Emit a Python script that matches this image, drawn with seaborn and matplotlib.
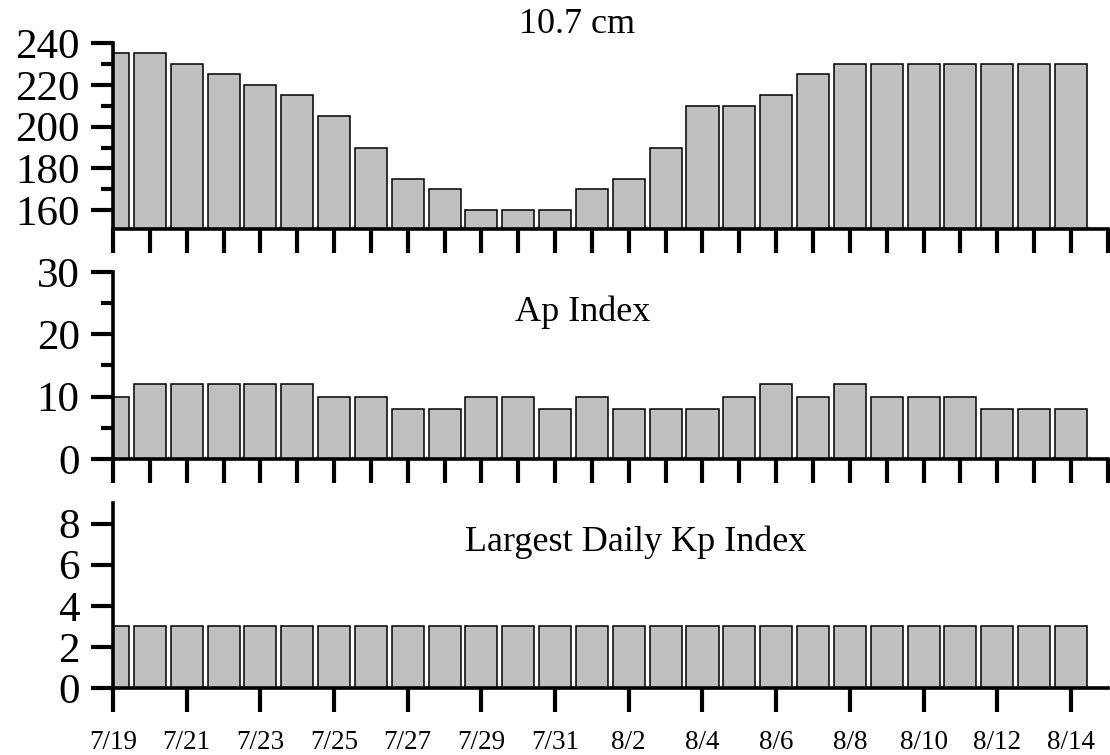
import matplotlib.pyplot as plt
from matplotlib.ticker import FixedLocator, MultipleLocator
import pandas as pd
import seaborn as sns

sns.set_style('ticks')
plt.rcParams['font.family'] = ['Liberation Serif', 'DejaVu Serif']
for key in ['axes.edgecolor', 'xtick.color', 'ytick.color', 'text.color',
            'axes.labelcolor']:
    plt.rcParams[key] = 'black'

# daily values, 7/19 .. 8/14
days = ['7/19', '7/20', '7/21', '7/22', '7/23', '7/24', '7/25', '7/26',
        '7/27', '7/28', '7/29', '7/30', '7/31', '8/1', '8/2', '8/3', '8/4',
        '8/5', '8/6', '8/7', '8/8', '8/9', '8/10', '8/11', '8/12', '8/13',
        '8/14']
flux = [235, 235, 230, 225, 220, 215, 205, 190, 175, 170, 160, 160, 160,
        170, 175, 190, 210, 210, 215, 225, 230, 230, 230, 230, 230, 230, 230]
ap = [10, 12, 12, 12, 12, 12, 10, 10, 8, 8, 10, 10, 8, 10, 8, 8, 8, 10, 12,
      10, 12, 10, 10, 10, 8, 8, 8]
kp = [3, 3, 3, 3, 3, 3, 3, 3, 3, 3, 3, 3, 3, 3, 3, 3, 3, 3, 3, 3, 3, 3, 3,
      3, 3, 3, 3]

df = pd.DataFrame({'day': days, 'flux': flux, 'ap': ap, 'kp': kp})

fig = plt.figure(figsize=(11.1, 7.55), dpi=100)
left, width = 0.1018, 0.8962
ax1 = fig.add_axes([left, 0.6967, width, 0.2463])
ax2 = fig.add_axes([left, 0.3921, width, 0.2476])
ax3 = fig.add_axes([left, 0.0887, width, 0.2451])

panels = [
    (ax1, 'flux', (151, 240), 20, 10),
    (ax2, 'ap', (0, 30), 10, 5),
    (ax3, 'kp', (0, 9), 2, None),
]

n = len(days)
for ax, col, ylim, major, minor in panels:
    sns.barplot(data=df, x='day', y=col, ax=ax, color='#c0c0c0',
                saturation=1, edgecolor='black', linewidth=1.1, width=0.87)
    ax.set_xlim(0, n)
    ax.set_ylim(*ylim)
    ax.set_xlabel('')
    ax.set_ylabel('')
    sns.despine(ax=ax)
    for side in ['left', 'bottom']:
        ax.spines[side].set_linewidth(2.6)
    ax.yaxis.set_major_locator(MultipleLocator(major))
    if minor:
        ax.yaxis.set_minor_locator(MultipleLocator(minor))
    ax.tick_params(axis='y', which='major', direction='out', length=16,
                   width=3, labelsize=31, pad=8)
    ax.tick_params(axis='y', which='minor', direction='out', length=9,
                   width=3)

# upper two panels: a tick every day, no labels
for ax in [ax1, ax2]:
    ax.xaxis.set_major_locator(FixedLocator(range(n + 1)))
    ax.xaxis.set_minor_locator(FixedLocator([i + 0.5 for i in range(n)]))
    ax.set_xticklabels([])
    ax.tick_params(axis='x', which='major', direction='out', length=17,
                   width=3)
    ax.tick_params(axis='x', which='minor', direction='in', length=2,
                   width=0.8, color='grey')

# bottom panel: labelled tick every second day
ax3.set_xticks(range(0, n, 2))
ax3.set_xticklabels(days[::2])
ax3.xaxis.set_minor_locator(FixedLocator(range(1, n + 1, 2)))
ax3.tick_params(axis='x', which='major', direction='out', length=17,
                width=3, labelsize=19.5, pad=13)
ax3.tick_params(axis='x', which='minor', direction='in', length=2,
                width=0.8, color='grey')

fig.text(0.520, 0.968, '10.7 cm', fontsize=26, ha='center', va='center')
fig.text(0.525, 0.586, 'Ap Index', fontsize=26, ha='center', va='center')
fig.text(0.573, 0.282, 'Largest Daily Kp Index', fontsize=26,
         ha='center', va='center')

fig.savefig('out.png', dpi=100)
